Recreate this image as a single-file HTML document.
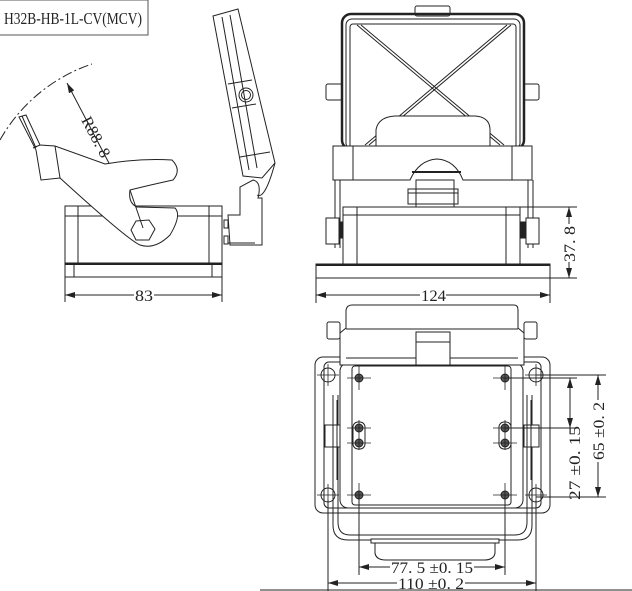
<!DOCTYPE html>
<html><head><meta charset="utf-8"><style>
html,body{margin:0;padding:0;background:#fff;width:632px;height:591px;overflow:hidden}
svg{display:block}
text{font-family:"Liberation Serif",serif;fill:#222}
</style></head><body>
<svg width="632" height="591" viewBox="0 0 632 591" xmlns="http://www.w3.org/2000/svg" fill="none" stroke="#222" stroke-width="1">
<defs>
<marker id="a" viewBox="0 0 10 6" refX="10" refY="3" markerWidth="10" markerHeight="6" orient="auto-start-reverse" markerUnits="userSpaceOnUse"><path d="M0,0L10,3L0,6z" fill="#222" stroke="none"/></marker>
</defs>
<!-- title -->
<rect x="-1" y="0" width="149" height="35" stroke="#555"/>
<text x="4" y="24" font-size="17" textLength="138" lengthAdjust="spacingAndGlyphs" stroke="none">H32B-HB-1L-CV(MCV)</text>

<!-- LEFT VIEW -->
<path d="M0,140 A166,166 0 0 1 92,64" stroke-dasharray="10,3,2,3"/>
<line x1="67" y1="83" x2="143" y2="228" marker-start="url(#a)"/>
<text transform="translate(81,120) rotate(62)" font-size="16" stroke="none" textLength="44" lengthAdjust="spacingAndGlyphs">R88. 8</text>
<rect x="65" y="206" width="157" height="57"/>
<line x1="65" y1="216" x2="222" y2="216"/>
<line x1="78" y1="206" x2="78" y2="263"/><line x1="209" y1="206" x2="209" y2="263"/>
<rect x="65" y="263" width="157" height="14"/>
<line x1="65" y1="264" x2="222" y2="264" stroke-width="2"/>
<line x1="74" y1="263" x2="74" y2="277"/><line x1="212" y1="263" x2="212" y2="277"/>
<!-- lever -->
<path d="M19,117 L26,115 L40,145 L55,146 L105,164 Q140,158 172,160 Q182,170 173,180 Q150,185 130,190 Q128,203 137,207 L175,208 Q182,215 170,235 Q155,250 140,245 Q128,240 60,178 L41,180 L36,150 Z" fill="#fff"/>
<line x1="33" y1="148" x2="40" y2="145"/>
<line x1="55" y1="146" x2="60" y2="178"/>
<line x1="22" y1="116" x2="36" y2="148"/>
<polygon points="136,221 149,220 155,229 149,240 136,240 131,230" fill="#fff"/>
<line x1="130" y1="190" x2="143" y2="228"/>
<!-- cover tilted -->
<polygon points="213,16 238,9 275,163 262,178 243,176" fill="#fff"/>
<line x1="222" y1="17" x2="249" y2="170"/>
<line x1="230" y1="15" x2="257" y2="168"/>
<line x1="228" y1="84" x2="252" y2="80"/><line x1="232" y1="108" x2="256" y2="104"/>
<line x1="240" y1="157" x2="270" y2="152"/>
<circle cx="246" cy="95" r="7"/><circle cx="246" cy="95" r="4.5"/>
<path d="M253,180 Q262,182 258,198 L262,198 L262,245 L230,245 L228,215 L240,215 L240,187 Z" fill="#fff"/>
<path d="M257,195 Q265,200 275,163"/>
<rect x="224" y="220" width="4" height="8"/><rect x="224" y="236" width="4" height="8"/>
<line x1="228" y1="243" x2="255" y2="243"/>
<!-- 83 dim -->
<line x1="65" y1="277" x2="65" y2="302"/><line x1="222" y1="277" x2="222" y2="302"/>
<line x1="65" y1="295" x2="134" y2="295" marker-start="url(#a)"/>
<line x1="154" y1="295" x2="222" y2="295" marker-end="url(#a)"/>
<text x="135" y="301" font-size="16" stroke="none" textLength="18" lengthAdjust="spacingAndGlyphs">83</text>

<!-- FRONT VIEW -->
<rect x="415" y="6" width="35" height="10" rx="2" fill="#fff"/>
<rect x="342" y="14" width="182" height="135" rx="9" stroke-width="2.5"/>
<rect x="346" y="19" width="174" height="130" rx="6"/>
<rect x="350" y="24" width="166" height="125" rx="3"/>
<line x1="357" y1="25" x2="500" y2="145"/><line x1="361" y1="25" x2="504" y2="145"/>
<line x1="507" y1="25" x2="365" y2="145"/><line x1="511" y1="25" x2="369" y2="145"/>
<rect x="326" y="84" width="16" height="16" rx="2"/>
<rect x="524" y="84" width="15" height="16" rx="2"/>
<path d="M376,147 L376,130 Q378,117 395,116 L475,116 Q490,117 490,130 L490,147" fill="#fff"/>
<path d="M333,146 L532,146 L532,180 L463,180 Q455,160 437,159 Q419,160 410,180 L333,180 Z" fill="#fff"/>
<line x1="353" y1="146" x2="353" y2="180"/><line x1="512" y1="146" x2="512" y2="180"/>
<line x1="412" y1="172" x2="461" y2="172" stroke-width="2"/>
<rect x="416" y="180" width="38" height="27"/>
<rect x="408" y="189" width="50" height="15"/>
<line x1="408" y1="193" x2="458" y2="193"/>
<line x1="335" y1="180" x2="335" y2="248"/><line x1="340" y1="180" x2="340" y2="248"/>
<line x1="528" y1="180" x2="528" y2="248"/><line x1="533" y1="180" x2="533" y2="248"/>
<path d="M343,265 L343,207 L520,207 L520,265"/>
<line x1="343" y1="215" x2="520" y2="215"/>
<line x1="357" y1="207" x2="357" y2="265"/><line x1="506" y1="207" x2="506" y2="265"/>
<rect x="326" y="218" width="13" height="26" fill="#fff"/>
<rect x="526" y="218" width="13" height="26" fill="#fff"/>
<rect x="339" y="222" width="4" height="16" fill="#222"/><rect x="521" y="222" width="4" height="16" fill="#222"/>
<rect x="316" y="264" width="234" height="14"/>
<line x1="316" y1="265" x2="550" y2="265" stroke-width="2"/>
<!-- 37.8 -->
<line x1="520" y1="207" x2="577" y2="207"/><line x1="550" y1="278" x2="577" y2="278"/>
<line x1="569" y1="207" x2="569" y2="224" marker-start="url(#a)"/>
<line x1="569" y1="262" x2="569" y2="278" marker-end="url(#a)"/>
<text transform="translate(575,262) rotate(-90)" font-size="16" stroke="none" textLength="36" lengthAdjust="spacingAndGlyphs">37. 8</text>
<!-- 124 -->
<line x1="316" y1="278" x2="316" y2="303"/><line x1="550" y1="278" x2="550" y2="303"/>
<line x1="316" y1="295" x2="420" y2="295" marker-start="url(#a)"/>
<line x1="446" y1="295" x2="550" y2="295" marker-end="url(#a)"/>
<text x="421" y="301" font-size="16" stroke="none" textLength="25" lengthAdjust="spacingAndGlyphs">124</text>

<!-- TOP VIEW -->
<rect x="315" y="357" width="235" height="156" rx="8"/>
<rect x="324" y="362" width="217" height="146" rx="5"/>
<path d="M333,395 L333,525 Q333,540 348,540 L518,540 Q532,540 532,525 L532,395"/>
<path d="M338,395 L338,522 Q338,535 350,535 L515,535 Q527,535 527,522 L527,395"/>
<rect x="340" y="363" width="183" height="145" rx="8" fill="#fff"/>
<rect x="352" y="366" width="159" height="139" rx="3"/>
<path d="M375,540 L375,553 Q376,560 386,560 L484,560 Q494,560 495,553 L495,540" fill="#fff"/>
<rect x="371" y="539" width="128" height="4" fill="#fff"/>
<!-- lid -->
<path d="M340,365 L340,333 L346,328 L346,310 Q347,305 352,305 L514,305 Q518,305 518,310 L518,328 L524,333 L524,365 Z" fill="#fff"/>
<line x1="346" y1="329" x2="518" y2="329"/>
<line x1="346" y1="358" x2="518" y2="358"/>
<rect x="416" y="332" width="34" height="33" fill="#fff"/>
<line x1="416" y1="342" x2="450" y2="342"/>
<rect x="327" y="322" width="13" height="17" rx="2"/><rect x="524" y="322" width="13" height="17" rx="2"/>
<!-- holes -->
<g>
<circle cx="328" cy="375" r="7"/><circle cx="536" cy="375" r="7"/>
<circle cx="328" cy="495" r="7"/><circle cx="536" cy="495" r="7"/>
<path d="M317,375h22M328,364v22M525,375h22M536,364v22M317,495h22M328,484v22M525,495h22M536,484v22" stroke-width="0.8"/>
</g>
<g fill="#555">
<circle cx="359" cy="378" r="4"/><circle cx="505" cy="378" r="4"/>
<circle cx="359" cy="428" r="4"/><circle cx="505" cy="428" r="4"/>
<circle cx="359" cy="443" r="4"/><circle cx="505" cy="443" r="4"/>
<circle cx="359" cy="495" r="4"/><circle cx="505" cy="495" r="4"/>
</g>
<path d="M347,378h24M359,366v24M493,378h24M505,366v24M347,428h24M493,428h24M347,443h24M493,443h24M347,495h24M359,483v24M493,495h24M505,483v24M359,420v30M505,420v30" stroke-width="0.8"/>
<rect x="353" y="422" width="12" height="27" rx="5"/><rect x="499" y="422" width="12" height="27" rx="5"/>
<rect x="325" y="425" width="15" height="22" fill="#fff"/><rect x="524" y="425" width="15" height="22" fill="#fff"/>
<line x1="333" y1="400" x2="333" y2="480"/><line x1="337" y1="400" x2="337" y2="480"/>
<line x1="527" y1="400" x2="527" y2="480"/><line x1="531" y1="400" x2="531" y2="480"/>
<!-- dims right -->
<line x1="505" y1="378" x2="577" y2="378"/><line x1="505" y1="428" x2="577" y2="428"/>
<line x1="536" y1="375" x2="606" y2="375"/><line x1="536" y1="497" x2="606" y2="497"/>
<line x1="570" y1="378" x2="570" y2="428" marker-start="url(#a)" marker-end="url(#a)"/>
<text transform="translate(580,500) rotate(-90)" font-size="16" stroke="none" textLength="74" lengthAdjust="spacingAndGlyphs">27  ±0. 15</text>
<line x1="598" y1="375" x2="598" y2="400" marker-start="url(#a)"/>
<line x1="598" y1="462" x2="598" y2="497" marker-end="url(#a)"/>
<text transform="translate(604,460) rotate(-90)" font-size="16" stroke="none" textLength="58" lengthAdjust="spacingAndGlyphs">65  ±0. 2</text>
<!-- dims bottom -->
<line x1="359" y1="495" x2="359" y2="575"/><line x1="505" y1="495" x2="505" y2="575"/>
<line x1="328" y1="500" x2="328" y2="591"/><line x1="536" y1="500" x2="536" y2="591"/>
<line x1="359" y1="567" x2="390" y2="567" marker-start="url(#a)"/>
<line x1="474" y1="567" x2="505" y2="567" marker-end="url(#a)"/>
<text x="391" y="573" font-size="16" stroke="none" textLength="82" lengthAdjust="spacingAndGlyphs">77. 5  ±0. 15</text>
<line x1="328" y1="583" x2="397" y2="583" marker-start="url(#a)"/>
<line x1="465" y1="583" x2="536" y2="583" marker-end="url(#a)"/>
<text x="398" y="589" font-size="16" stroke="none" textLength="66" lengthAdjust="spacingAndGlyphs">110  ±0. 2</text>
<line x1="260" y1="590" x2="632" y2="590"/>
</svg>
</body></html>
